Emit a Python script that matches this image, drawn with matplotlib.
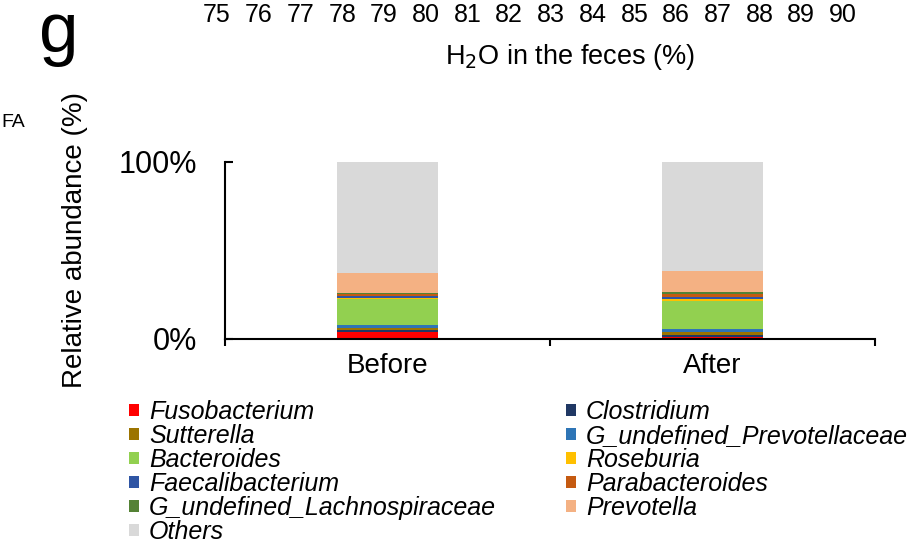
import matplotlib.pyplot as plt
from matplotlib.patches import Patch

plt.rcParams["font.family"] = ["Liberation Sans", "DejaVu Sans"]

groups = ["Before", "After"]
genera = ["Fusobacterium", "Clostridium", "Sutterella", "G_undefined_Prevotellaceae",
          "Bacteroides", "Roseburia", "Faecalibacterium", "Parabacteroides",
          "G_undefined_Lachnospiraceae", "Prevotella", "Others"]
colors = ["#FF0000", "#203864", "#9C7400", "#2E75B6", "#92D050", "#FFC000",
          "#2F55A4", "#C55A11", "#548235", "#F4B183", "#D9D9D9"]
# relative abundance (%) per genus, bottom to top
before = [4.1, 0.8, 1.1, 1.7, 14.9, 0.6, 1.2, 0.8, 1.0, 11.3, 62.5]
after = [1.0, 1.0, 2.0, 1.6, 16.0, 0.9, 1.5, 1.3, 1.2, 12.0, 61.5]

top_ticks = list(range(75, 91))

fig = plt.figure(figsize=(9.13, 5.43), dpi=100)

# main stacked bar panel
ax = fig.add_axes([225 / 913, 1 - 339 / 543, 650 / 913, 177 / 543])
x = list(range(len(groups)))
bottoms = [0.0, 0.0]
for name, col, b, a in zip(genera, colors, before, after):
    vals = [b / 100, a / 100]
    ax.bar(x, vals, width=0.31, bottom=bottoms, color=col, linewidth=0)
    bottoms = [bottoms[0] + vals[0], bottoms[1] + vals[1]]

ax.set_xlim(-0.5, 1.5)
ax.set_ylim(0, 1)
ax.spines["top"].set_visible(False)
ax.spines["right"].set_visible(False)
ax.spines["left"].set_linewidth(1.5)
ax.spines["bottom"].set_linewidth(1.5)
ax.set_xticks(x)
ax.set_xticklabels(groups, fontsize=20)
ax.set_xticks([-0.5, 0.5, 1.5], minor=True)
ax.tick_params(axis="x", which="major", length=0, pad=10)
ax.tick_params(axis="x", which="minor", length=5, width=1.5, direction="out")
ax.set_yticks([0, 1])
ax.set_yticklabels(["0%", "100%"], fontsize=22)
ax.tick_params(axis="y", length=6, width=1.5, direction="in", pad=20)
ax.set_ylabel("Relative abundance (%)", fontsize=20)
ax.yaxis.set_label_coords((88 - 225) / 650, (339 - 240) / 177)

# leftover tick labels of the panel above
ax_top = fig.add_axes([217 / 913, 1.002, 626 / 913, 0.01])
ax_top.set_xlim(75, 90)
ax_top.set_xticks(top_ticks)
ax_top.set_xticklabels([str(t) for t in top_ticks], fontsize=18)
ax_top.tick_params(axis="x", length=0, pad=3)
ax_top.set_yticks([])
for s in ax_top.spines.values():
    s.set_visible(False)
ax_top.patch.set_visible(False)
ax_top.set_xlabel("H$_2$O in the feces (%)", fontsize=19.5, va="top")
ax_top.xaxis.set_label_coords(570 / 913, 1 - 42 / 543, transform=fig.transFigure)

fig.text(39 / 913, 1 - 52 / 543, "g", fontsize=51, ha="left", va="baseline")
fig.text(1 / 913, 1 - 127 / 543, "FA", fontsize=14, ha="left", va="baseline")

handles = [Patch(facecolor=c, edgecolor="none") for c in colors]
left_idx = [0, 2, 4, 6, 8, 10]
right_idx = [1, 3, 5, 7, 9]
legend_kw = dict(frameon=False, loc="upper left", borderpad=0, borderaxespad=0,
                 handlelength=0.4, handleheight=0.4, handletextpad=0.4,
                 labelspacing=0.0, prop={"style": "italic", "size": 18})
fig.legend([handles[i] for i in left_idx], [genera[i] for i in left_idx],
           bbox_to_anchor=(129 / 913, 1 - 400 / 543), **legend_kw)
fig.legend([handles[i] for i in right_idx], [genera[i] for i in right_idx],
           bbox_to_anchor=(566 / 913, 1 - 400 / 543), **legend_kw)

fig.savefig("out.png", dpi=100)
